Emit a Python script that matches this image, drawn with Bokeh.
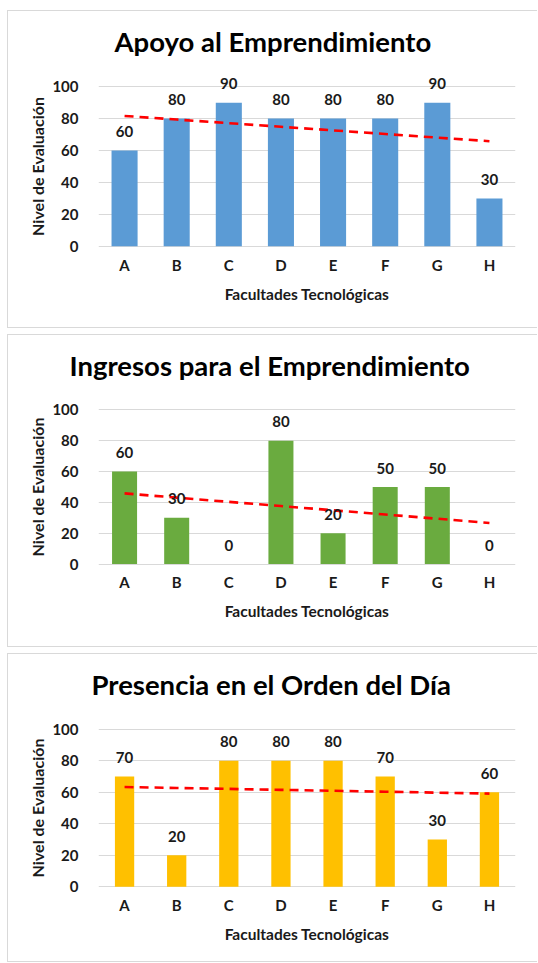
import numpy as np
from bokeh.plotting import figure
from bokeh.layouts import column
from bokeh.models import Range1d, FixedTicker, Title, LabelSet, ColumnDataSource
from bokeh.core.properties import value
from bokeh.embed import file_html
from bokeh.resources import INLINE

# ---- data ----
categorias = ["A", "B", "C", "D", "E", "F", "G", "H"]
apoyo = [60, 80, 90, 80, 80, 80, 90, 30]
ingresos = [60, 30, 0, 80, 20, 50, 50, 0]
presencia = [70, 20, 80, 80, 80, 70, 30, 60]
y_ticks = [0, 20, 40, 60, 80, 100]

titulos = ["Apoyo al Emprendimiento", "Ingresos para el Emprendimiento", "Presencia en el Orden del Día"]
x_titulo = "Facultades Tecnológicas"
y_titulo = "Nivel de Evaluación"

FONT = "Lato"
TXT = "#1a1a1a"
PAD = 12  # extra room (in value units) above 100 / below 0 so labels are not clipped


def panel(title, vals, color, bar_w, h, mb_top, mb_bottom, title_offset):
    p = figure(x_range=categorias, y_range=Range1d(-PAD, 100 + PAD), width=530, height=h,
               output_backend="svg", toolbar_location=None,
               min_border_left=90, min_border_right=23, min_border_top=mb_top,
               min_border_bottom=mb_bottom,
               styles={"border-left": "1px solid #d9d9d9", "border-top": "1px solid #d9d9d9",
                       "border-bottom": "1px solid #d9d9d9"})
    p.outline_line_color = None
    p.background_fill_color = "white"
    p.border_fill_color = "white"
    p.xgrid.grid_line_color = None
    p.ygrid.grid_line_color = "#d9d9d9"
    p.ygrid.grid_line_width = 1
    p.yaxis.ticker = FixedTicker(ticks=y_ticks)

    for ax in (p.xaxis[0], p.yaxis[0]):
        ax.axis_line_color = None
        ax.major_tick_line_color = None
        ax.minor_tick_line_color = None
        ax.major_tick_out = 0
        ax.major_tick_in = 0
        ax.minor_tick_out = 0
        ax.minor_tick_in = 0
        ax.major_label_text_font = FONT
        ax.major_label_text_font_style = "bold"
        ax.major_label_text_color = TXT
        ax.major_label_text_font_size = "15px"
        ax.axis_label_text_font = FONT
        ax.axis_label_text_font_style = "bold"
        ax.axis_label_text_color = TXT

    p.xaxis.axis_label = x_titulo
    p.yaxis.axis_label = y_titulo
    p.xaxis.axis_label_text_font_size = "15.5px"
    p.yaxis.axis_label_text_font_size = "16px"
    p.xaxis.major_label_standoff = -10
    p.xaxis.axis_label_standoff = 8
    p.yaxis.major_label_standoff = 20
    p.yaxis.axis_label_standoff = 2

    p.vbar(x=categorias, top=vals, width=bar_w, color=color, line_color=None)

    # linear trend line (least squares over category order)
    xi = np.arange(1, len(vals) + 1)
    m, b = np.polyfit(xi, vals, 1)
    trend = m * xi + b
    p.line(x=categorias, y=trend, line_color="#ff0000", line_width=2.6, line_dash="9 6")

    src = ColumnDataSource(dict(x=categorias, y=vals, t=[str(v) for v in vals]))
    p.add_layout(LabelSet(x="x", y="y", text="t", source=src, y_offset=19,
                          text_align="center", text_baseline="middle",
                          text_font=value(FONT), text_font_style="bold", text_font_size="15px",
                          text_color=TXT))

    t = Title(text=title, align="left", offset=title_offset, standoff=20,
              text_font=FONT, text_font_style="bold", text_font_size="27.5px",
              text_color="#000000")
    p.add_layout(t, "above")
    return p


p1 = panel(titulos[0], apoyo, "#5b9bd5", 0.5, 318, 56, 64, 16)
p2 = panel(titulos[1], ingresos, "#6aab3f", 0.48, 313, 56, 66, -29)
p3 = panel(titulos[2], presencia, "#ffc000", 0.37, 309, 56, 58, -7)

layout = column(p1, p2, p3, spacing=6, margin=(10, 0, 0, 7))
open("out.html", "w").write(file_html(layout, INLINE))
